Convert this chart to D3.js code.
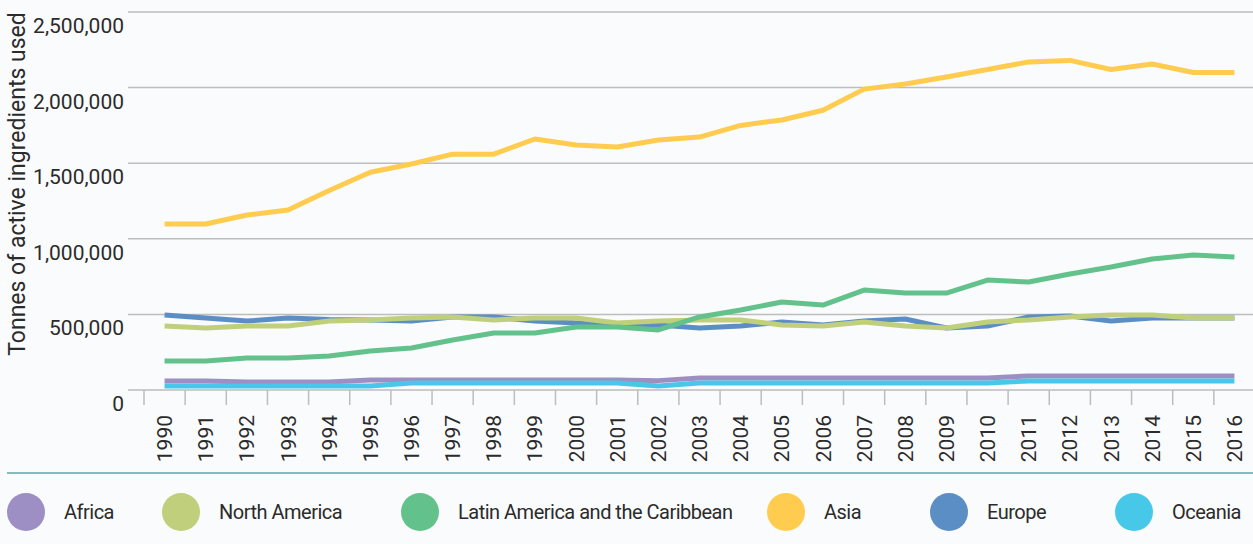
<!DOCTYPE html>
<html>
<head>
<meta charset="utf-8">
<script src="https://cdn.jsdelivr.net/npm/d3@7"></script>
<style>
  html, body { margin: 0; padding: 0; background: #fafbfc; }
  svg { display: block; font-family: Roboto, "Open Sans", sans-serif; }
</style>
</head>
<body>
<div id="chart"></div>
<script>
// Daten
const years = d3.range(1990, 2017).map(String)
const regions = ["Africa", "North America", "Latin America and the Caribbean", "Asia", "Europe", "Oceania"]
const colors = ["#9d8fc4", "#c0cf7c", "#63c28b", "#ffcc50", "#5b8ec4", "#48c8e8"]

const africa = [60000, 60000, 53000, 53000, 53000, 66000, 66000, 66000, 66000, 66000, 66000, 66000, 62000, 79000, 79000, 79000, 79000, 79000, 79000, 79000, 79000, 93000, 93000, 93000, 93000, 93000, 93000]
const northAmerica = [423000, 410000, 423000, 423000, 456000, 463000, 476000, 483000, 463000, 476000, 476000, 443000, 456000, 463000, 463000, 430000, 423000, 450000, 423000, 410000, 450000, 463000, 483000, 496000, 496000, 476000, 476000]
const latinAmerica = [192000, 192000, 212000, 212000, 225000, 258000, 278000, 331000, 377000, 377000, 417000, 417000, 397000, 483000, 529000, 582000, 562000, 661000, 641000, 641000, 727000, 714000, 767000, 813000, 866000, 893000, 880000]
const asia = [1098000, 1098000, 1157000, 1190000, 1320000, 1440000, 1495000, 1560000, 1560000, 1660000, 1620000, 1607000, 1653000, 1673000, 1750000, 1786000, 1850000, 1990000, 2024000, 2070000, 2120000, 2170000, 2180000, 2120000, 2156000, 2100000, 2100000]
const europe = [496000, 476000, 456000, 476000, 466000, 463000, 456000, 483000, 483000, 456000, 443000, 423000, 430000, 410000, 423000, 450000, 430000, 456000, 470000, 410000, 423000, 483000, 490000, 456000, 476000, 476000, 476000]
const oceania = [26000, 26000, 26000, 26000, 26000, 26000, 46000, 46000, 46000, 46000, 46000, 46000, 26000, 46000, 46000, 46000, 46000, 46000, 46000, 46000, 46000, 60000, 60000, 60000, 60000, 60000, 60000]

const yTicks = [0, 500000, 1000000, 1500000, 2000000, 2500000]
const yTitle = "Tonnes of active ingredients used"

// Reihenfolge beim Zeichnen (Europa unten)
const series = [
  { name: "Europe", values: europe },
  { name: "Africa", values: africa },
  { name: "North America", values: northAmerica },
  { name: "Latin America and the Caribbean", values: latinAmerica },
  { name: "Asia", values: asia },
  { name: "Oceania", values: oceania }
]

const W = 1253, H = 544
const svg = d3.select("#chart").append("svg")
  .attr("width", W)
  .attr("height", H)

// Skalen
const x = d3.scaleBand().domain(years).range([144, 1255]).padding(0)
const y = d3.scaleLinear().domain([0, 2500000]).range([390, 12])
const color = d3.scaleOrdinal().domain(regions).range(colors)

// Gitterlinien
svg.append("g")
  .selectAll("line")
  .data(yTicks)
  .enter().append("line")
  .attr("x1", 128).attr("x2", W)
  .attr("y1", d => y(d)).attr("y2", d => y(d))
  .attr("stroke", "#bdbdbd")
  .attr("stroke-width", 1.5)

// y-Achse
const yAxis = d3.axisLeft(y)
  .tickValues(yTicks)
  .tickSize(0)
  .tickPadding(0)
  .tickFormat(d3.format(","))

svg.append("g")
  .attr("transform", "translate(124,0)")
  .call(yAxis)
  .call(g => g.select(".domain").remove())
  .selectAll("text")
  .attr("dy", "0.98em")
  .style("font-size", "21px")
  .style("font-family", "Roboto")
  .style("fill", "#2b2b2b")

// y-Titel
svg.append("text")
  .attr("transform", "translate(25," + 184 + ") rotate(-90)")
  .attr("text-anchor", "middle")
  .style("font-size", "23px")
  .style("fill", "#2b2b2b")
  .text(yTitle)

// x-Ticks an den Bandgrenzen
svg.append("g")
  .selectAll("line")
  .data(years)
  .enter().append("line")
  .attr("x1", d => x(d)).attr("x2", d => x(d))
  .attr("y1", 390).attr("y2", 405)
  .attr("stroke", "#bdbdbd")
  .attr("stroke-width", 1.5)

// x-Achse
const xAxis = d3.axisBottom(x).tickSize(0)

svg.append("g")
  .attr("transform", "translate(0,415)")
  .call(xAxis)
  .call(g => g.select(".domain").remove())
  .selectAll("text")
  .attr("x", 0)
  .attr("y", 0)
  .attr("dy", "0.36em")
  .attr("transform", "rotate(-90)")
  .style("text-anchor", "end")
  .style("font-size", "21px")
  .style("font-family", "Roboto")
  .style("fill", "#2b2b2b")

// Linien
const line = d3.line()
  .x((d, i) => x(years[i]) + x.bandwidth() / 2)
  .y(d => y(d))

svg.append("g")
  .selectAll("path")
  .data(series)
  .enter().append("path")
  .attr("d", d => line(d.values))
  .attr("fill", "none")
  .attr("stroke", d => color(d.name))
  .attr("stroke-width", 5)
  .attr("stroke-linejoin", "round")

// Trennlinie
svg.append("line")
  .attr("x1", 7).attr("x2", W)
  .attr("y1", 473).attr("y2", 473)
  .attr("stroke", "#5ea6a8")
  .attr("stroke-width", 1.5)

// Legende
const legendX = [26, 181, 420, 786, 949, 1134]
const legend = svg.append("g")
  .selectAll("g")
  .data(regions)
  .enter().append("g")
  .attr("transform", (d, i) => "translate(" + legendX[i] + ",512)")

legend.append("circle")
  .attr("r", 19)
  .attr("fill", d => color(d))

legend.append("text")
  .attr("x", 38)
  .attr("dy", "0.35em")
  .style("font-size", "20px")
  .style("letter-spacing", "-0.5px")
  .style("fill", "#2b2b2b")
  .text(d => d)
</script>
</body>
</html>
